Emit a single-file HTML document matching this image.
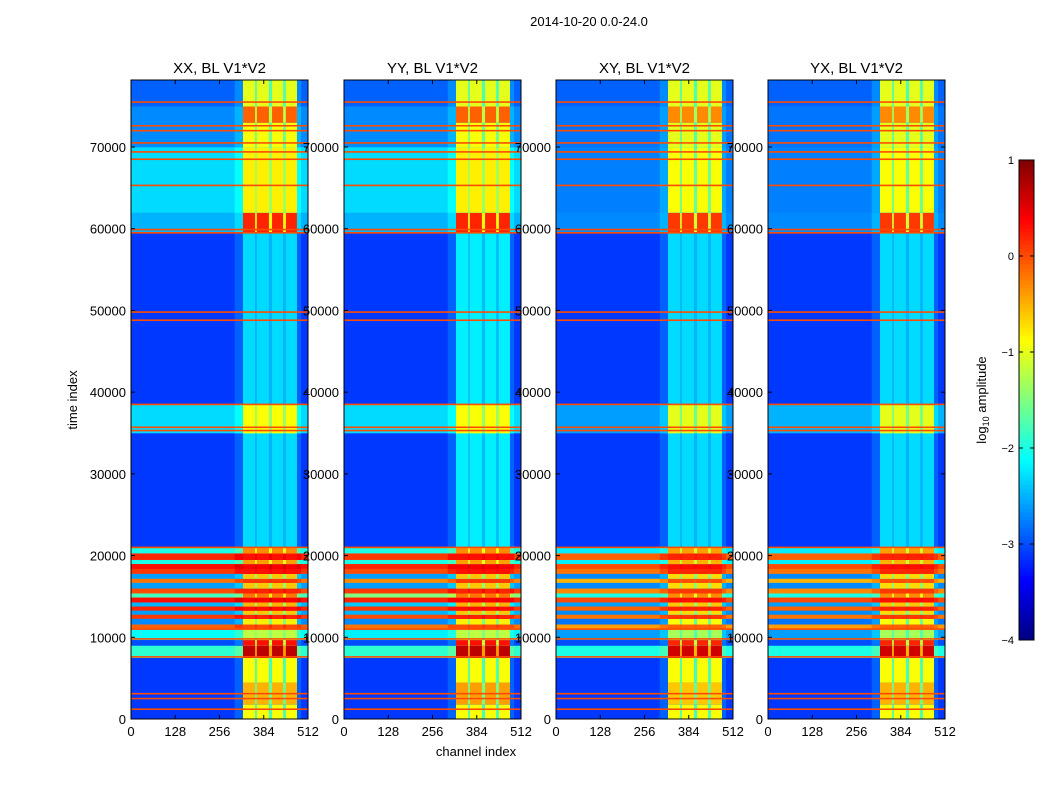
<!DOCTYPE html>
<html><head><meta charset="utf-8"><style>
body{margin:0;background:#fff;}
svg{display:block;font-family:"Liberation Sans",sans-serif;}
</style></head><body>
<svg id="fig" width="1050" height="800" viewBox="0 0 1050 800">
<text x="589" y="26" font-size="13" text-anchor="middle">2014-10-20 0.0-24.0</text>
<text x="77" y="400" font-size="13" text-anchor="middle" transform="rotate(-90 77 400)">time index</text>
<text x="476" y="756" font-size="13" text-anchor="middle">channel index</text>
<g id="panels"></g>
<g id="cbar"></g>
<text x="986" y="400" font-size="13" text-anchor="middle" transform="rotate(-90 986 400)">log<tspan font-size="9" dy="3">10</tspan><tspan dy="-3"> amplitude</tspan></text>
</svg>
<script>
// ---- data ----
const panelTitles = ["XX, BL V1*V2","YY, BL V1*V2","XY, BL V1*V2","YX, BL V1*V2"];
const bandStarts = [0,1800,4500,7500,9000,9700,
  11000,11600,12300,12800,13300,13800,14300,14900,15400,16000,16700,17200,17800,18400,19000,19500,20300,
  21000,35000,38500,59500,62000,70000,73000,75000];
const bandEnds = [1800,4500,7500,9000,9700,11000,
  11600,12300,12800,13300,13800,14300,14900,15400,16000,16700,17200,17800,18400,19000,19500,20300,21000,
  35000,38500,59500,62000,70000,73000,75000,78200];
const bgXX = [-3.1,-3.1,-3.1,-1.9,-3.0,-2.1,
  -0.1,-2.7,0.1,-2.6,0.2,-2.5,0.3,-1.8,0.0,-2.6,-0.2,-2.6,0.1,0.3,-2.0,0.2,-2.0,
  -3.1,-2.3,-3.1,-2.5,-2.3,-2.7,-2.7,-2.9];
const bgYY = [-3.1,-3.1,-3.1,-1.9,-3.0,-2.2,
  -0.2,-2.7,0.0,-2.5,0.1,-2.4,0.2,-1.5,0.1,-2.6,-0.3,-2.6,0.0,0.2,-2.0,0.1,-2.0,
  -3.1,-2.3,-3.1,-2.5,-2.3,-2.7,-2.7,-2.9];
const bgXY = [-3.1,-3.1,-3.1,-2.0,-3.0,-2.6,
  -0.4,-2.8,-0.2,-2.7,-0.1,-2.6,0.0,-2.0,-0.3,-2.7,-0.5,-2.7,-0.2,0.0,-2.2,-0.1,-2.2,
  -3.1,-2.6,-3.1,-2.7,-2.75,-2.8,-2.8,-2.9];
const bgYX = [-3.1,-3.1,-3.1,-2.0,-3.0,-2.6,
  -0.4,-2.8,-0.2,-2.7,-0.1,-2.6,0.0,-2.0,-0.3,-2.7,-0.5,-2.7,-0.2,0.0,-2.2,-0.1,-2.2,
  -3.1,-2.5,-3.1,-2.7,-2.75,-2.8,-2.8,-2.9];
const colXX = [-0.9,-0.5,-0.9,0.7,0.3,-1.2,
  0.0,-0.8,0.2,-0.6,0.3,-0.5,0.4,-0.2,0.2,-0.6,0.1,-0.6,0.3,0.4,-0.4,0.3,-0.3,
  -2.3,-0.9,-2.3,0.2,-0.8,-0.9,-0.1,-1.0];
const colYY = [-0.9,-0.4,-0.9,0.7,0.3,-1.2,
  0.0,-0.8,0.2,-0.6,0.3,-0.5,0.4,-0.2,0.2,-0.6,0.1,-0.6,0.3,0.4,-0.4,0.3,-0.3,
  -2.2,-0.9,-2.2,0.2,-0.8,-0.9,-0.1,-1.0];
const colXY = [-0.9,-0.6,-0.9,0.6,0.2,-1.3,
  -0.1,-0.9,0.1,-0.7,0.2,-0.6,0.3,-0.3,0.1,-0.7,0.0,-0.7,0.2,0.3,-0.5,0.2,-0.4,
  -2.3,-1.0,-2.3,0.1,-0.9,-1.0,-0.3,-1.0];
const colYX = [-0.9,-0.5,-0.9,0.6,0.2,-1.3,
  -0.1,-0.9,0.1,-0.7,0.2,-0.6,0.3,-0.3,0.1,-0.7,0.0,-0.7,0.2,0.3,-0.5,0.2,-0.4,
  -2.3,-1.0,-2.3,0.1,-0.9,-1.0,-0.3,-1.0];
const chanBlockStarts = [324,364,408,448];
const chanBlockEnds   = [359,399,440,480];
const rfiLineTimes = [1200,2500,3100,7600,9800,11000,21000,35300,35700,38500,48800,49800,59500,59900,65300,68500,69400,70500,72000,72600,75500];
const rfiLineLevel = 0.0;
const xTicks = [0,128,256,384,512];
const yTicks = [0,10000,20000,30000,40000,50000,60000,70000];
const cbarTicks = [1,0,-1,-2,-3,-4];
// ---- layout ----
const panelLeft = [131,344,556,768];
const panelW = 177, plotTop = 80, plotBottom = 719, tMax = 78200, nChan = 512;
const vmin = -4, vmax = 1;
const bgs = [bgXX,bgYY,bgXY,bgYX], cols = [colXX,colYY,colXY,colYX];
const NS = "http://www.w3.org/2000/svg";
function jet(v){
  let x = Math.max(0,Math.min(1,(v-vmin)/(vmax-vmin)));
  const c = k => Math.round(255*Math.max(0,Math.min(1,1.5-Math.abs(4*x-k))));
  return `rgb(${c(3)},${c(2)},${c(1)})`;
}
function el(tag,attrs,parent){const e=document.createElementNS(NS,tag);for(const k in attrs)e.setAttribute(k,attrs[k]);parent.appendChild(e);return e;}
const yS = t => plotBottom - t*(plotBottom-plotTop)/tMax;
const panels = document.getElementById('panels');
for(let p=0;p<4;p++){
  const x0 = panelLeft[p];
  const xS = c => x0 + c*panelW/nChan;
  const g = el('g',{},panels);
  
  
  for(let i=0;i<bandStarts.length;i++){
    const y1=yS(bandEnds[i]), y2=yS(bandStarts[i]), h=y2-y1;
    const bg=bgs[p][i], cl=cols[p][i];
    const r=el('rect',{x:x0,y:y1,width:panelW,height:h+0.3,fill:jet(bg)},g);
    
    
    const fl=el('rect',{x:xS(300),y:y1,width:xS(492)-xS(300),height:h+0.3,fill:jet(bg+0.2)},g);
    
    
    const gp=el('rect',{x:xS(chanBlockStarts[0]),y:y1,width:xS(chanBlockEnds[3])-xS(chanBlockStarts[0]),height:h+0.3,fill:jet((bg+cl)/2+0.2)},g);
    
    
    for(let b=0;b<chanBlockStarts.length;b++){
      const cr=el('rect',{x:xS(chanBlockStarts[b]),y:y1,width:xS(chanBlockEnds[b])-xS(chanBlockStarts[b]),height:h+0.3,fill:jet(cl)},g);
      
      
    }
  }
  for(const t of rfiLineTimes){
    const ln=el('rect',{x:x0,y:yS(t)-0.8,width:panelW,height:1.6,fill:jet(rfiLineLevel)},g);
    
    
  }
  const fr=el('rect',{x:x0,y:plotTop,width:panelW,height:plotBottom-plotTop,fill:'none',stroke:'#000','stroke-width':1},g);
  
  
  const tt=el('text',{x:x0+panelW/2,y:73,'font-size':15,'text-anchor':'middle'},g);
  tt.textContent=panelTitles[p];
  
  
  for(const c of xTicks){
    const x=xS(c);
    el('line',{x1:x,y1:plotBottom,x2:x,y2:plotBottom-4,stroke:'#000'},g);
    el('line',{x1:x,y1:plotTop,x2:x,y2:plotTop+4,stroke:'#000'},g);
    const tx=el('text',{x:x,y:plotBottom+17,'font-size':13,'text-anchor':'middle'},g);
    tx.textContent=c;
    
    
  }
  for(const t of yTicks){
    const y=yS(t);
    el('line',{x1:x0,y1:y,x2:x0+4,y2:y,stroke:'#000'},g);
    el('line',{x1:x0+panelW,y1:y,x2:x0+panelW-4,y2:y,stroke:'#000'},g);
    const ty=el('text',{x:x0-5,y:y+5,'font-size':13,'text-anchor':'end'},g);
    ty.textContent=t;
    
    
  }
}
// colorbar
const cb=document.getElementById('cbar');
const cbX=1019,cbW=15,cbT=160,cbB=640;
const cS = v => cbB - (v-vmin)*(cbB-cbT)/(vmax-vmin);
for(let i=0;i<120;i++){
  const v0=vmin+i*(vmax-vmin)/120, v1=vmin+(i+1)*(vmax-vmin)/120;
  el('rect',{x:cbX,y:cS(v1),width:cbW,height:cS(v0)-cS(v1)+0.5,fill:jet((v0+v1)/2)},cb);
}
el('rect',{x:cbX,y:cbT,width:cbW,height:cbB-cbT,fill:'none',stroke:'#000'},cb);
for(const v of cbarTicks){
  const y=cS(v);
  el('line',{x1:cbX,y1:y,x2:cbX+4,y2:y,stroke:'#000'},cb);
  el('line',{x1:cbX+cbW,y1:y,x2:cbX+cbW-4,y2:y,stroke:'#000'},cb);
  const t=el('text',{x:cbX-5,y:y+4,'font-size':11,'text-anchor':'end'},cb);
  t.textContent=v<0?'\u2212'+(-v):v;
  
  
}
</script>
</body></html>
